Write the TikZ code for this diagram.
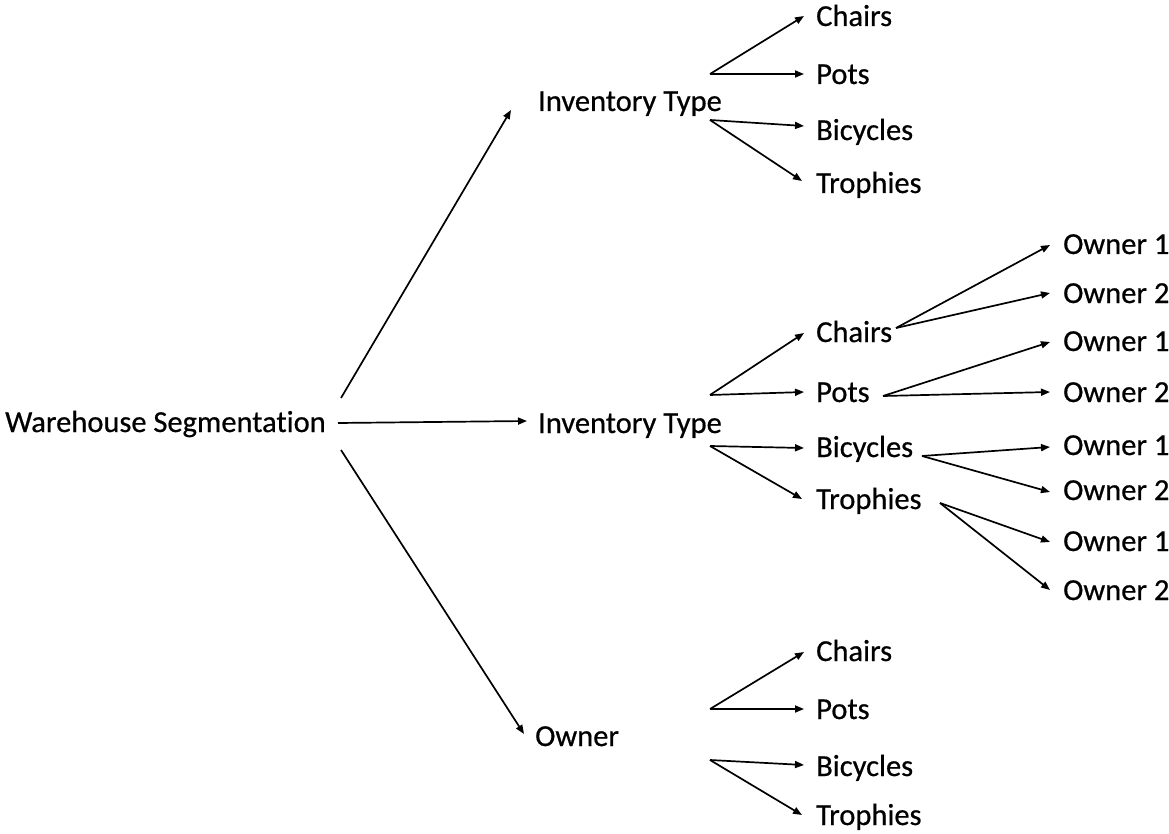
\documentclass[tikz,border=0pt]{standalone}
\usepackage{fontspec}
\setmainfont[Ligatures=NoCommon,FakeBold=0.6]{Carlito}
\usetikzlibrary{arrows.meta}
\begin{document}
\begin{tikzpicture}[x=1pt,y=-1pt,
  lbl/.style={anchor=west,inner sep=0pt,text height=18pt,text depth=0pt,font=\fontsize{30.5}{36}\selectfont},
  arr/.style={line width=1.7pt,-{Triangle[length=9pt,width=7pt]}}]
\useasboundingbox (0,0) rectangle (1169,834);
% level 0 and 1
\node[lbl] (ws) at (5,423) {Warehouse Segmentation};
\node[lbl] (itA) at (538,102) {Inventory Type};
\node[lbl] (itB) at (538,424) {Inventory Type};
\node[lbl] (ow) at (535,737) {Owner};
% top group
\node[lbl] (chA) at (816,17) {Chairs};
\node[lbl] (poA) at (816,75) {Pots};
\node[lbl] (biA) at (816,131) {Bicycles};
\node[lbl] (trA) at (816,184) {Trophies};
% middle group
\node[lbl] (chB) at (816,333) {Chairs};
\node[lbl] (poB) at (816,393) {Pots};
\node[lbl] (biB) at (816,448) {Bicycles};
\node[lbl] (trB) at (816,500) {Trophies};
% bottom group
\node[lbl] (chC) at (816,652) {Chairs};
\node[lbl] (poC) at (816,710) {Pots};
\node[lbl] (biC) at (816,767) {Bicycles};
\node[lbl] (trC) at (816,816) {Trophies};
% owners
\node[lbl] (o1) at (1063,245) {Owner 1};
\node[lbl] (o2) at (1063,294) {Owner 2};
\node[lbl] (o3) at (1063,342) {Owner 1};
\node[lbl] (o4) at (1063,393) {Owner 2};
\node[lbl] (o5) at (1063,446) {Owner 1};
\node[lbl] (o6) at (1063,491) {Owner 2};
\node[lbl] (o7) at (1063,542) {Owner 1};
\node[lbl] (o8) at (1063,591) {Owner 2};
% branch points
\coordinate (wsU) at (341,398);
\coordinate (wsM) at (338,423);
\coordinate (wsD) at (341,450);
\coordinate (tUA) at (511,110);
\coordinate (tMB) at (527,421);
\coordinate (tDO) at (524,734);
\coordinate (bA1) at (710,74);
\coordinate (bA2) at (710,120);
\coordinate (bB1) at (710,395);
\coordinate (bB2) at (710,446);
\coordinate (bC1) at (710,709);
\coordinate (bC2) at (710,760);
\coordinate (sCh) at (896,328);
\coordinate (sPo) at (883,396);
\coordinate (sBi) at (922,456);
\coordinate (sTr) at (940,503);
% main arrows
\draw[arr] (wsU) -- (tUA);
\draw[arr] (wsM) -- (tMB);
\draw[arr] (wsD) -- (tDO);
% top group arrows
\draw[arr] (bA1) -- (804,16);
\draw[arr] (bA1) -- (804,74);
\draw[arr] (bA2) -- (804,126);
\draw[arr] (bA2) -- (802,181);
% middle group
\draw[arr] (bB1) -- (804,333);
\draw[arr] (bB1) -- (804,392);
\draw[arr] (bB2) -- (804,448);
\draw[arr] (bB2) -- (802,499);
% bottom group
\draw[arr] (bC1) -- (804,652);
\draw[arr] (bC1) -- (804,709);
\draw[arr] (bC2) -- (804,765);
\draw[arr] (bC2) -- (802,815);
% owners
\draw[arr] (sCh) -- (1050,245);
\draw[arr] (sCh) -- (1050,293);
\draw[arr] (sPo) -- (1050,342);
\draw[arr] (sPo) -- (1050,392);
\draw[arr] (sBi) -- (1050,447);
\draw[arr] (sBi) -- (1050,492);
\draw[arr] (sTr) -- (1050,542);
\draw[arr] (sTr) -- (1050,590);
\end{tikzpicture}
\end{document}
